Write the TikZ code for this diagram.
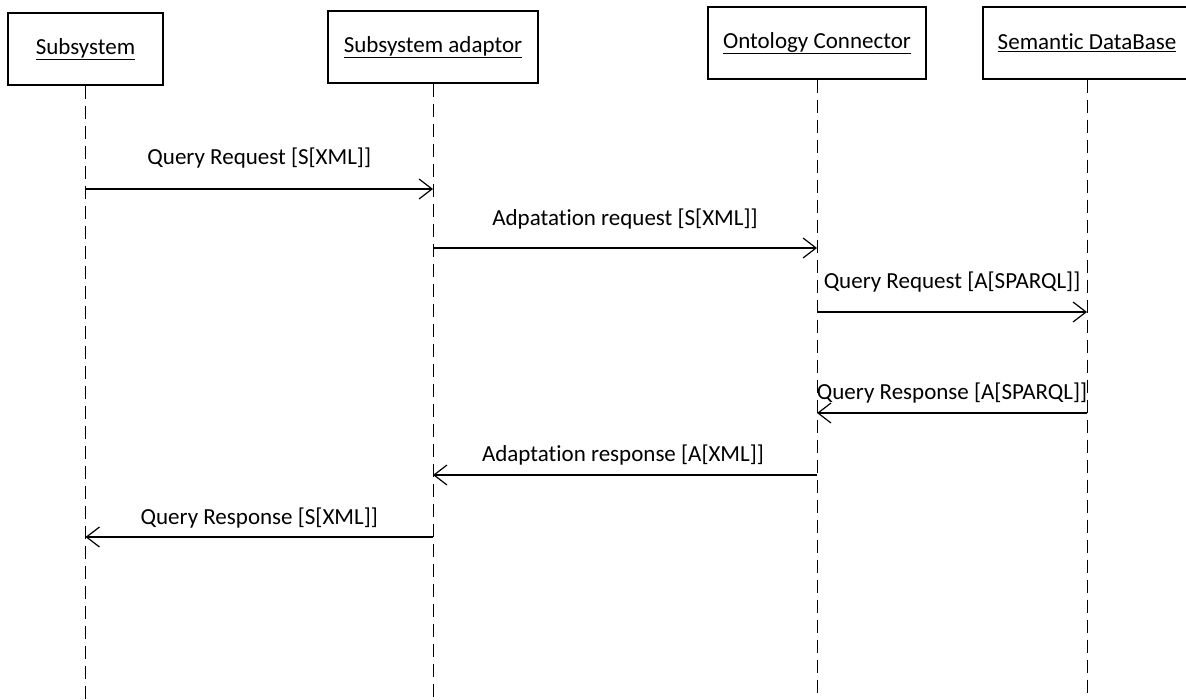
\documentclass[tikz,border=0pt]{standalone}
\usepackage{fontspec}
\setmainfont{Carlito}[RawFeature={-liga;-clig;-calt;-dlig}]
\usetikzlibrary{arrows.meta}
\begin{document}
\begin{tikzpicture}[x=1pt,y=-1pt,
  font=\fontsize{23}{27}\selectfont,
  actor/.style={draw, line width=1.2pt, inner sep=0pt, minimum height=72pt, fill=white},
  lifeline/.style={line width=1pt, dash pattern=on 13pt off 7pt},
  msg/.style={line width=1.2pt, -{Straight Barb[length=13pt,width=20pt,line width=1.2pt]}},
  lbl/.style={inner sep=0pt, anchor=center}]
\useasboundingbox (0,0) rectangle (1186,699);
% actors
\node[actor, minimum width=155pt] (s1) at (85.5,49) {\underline{Subsystem}};
\node[actor, minimum width=210pt] (s2) at (433,47) {\underline{Subsystem adaptor}};
\node[actor, minimum width=218pt] (s3) at (817,43) {\underline{Ontology Connector}};
\node[actor, minimum width=208pt] (s4) at (1087,43) {\underline{Semantic DataBase}};
% lifeline ends
\coordinate (e1) at (85.5,699);
\coordinate (e2) at (433,699);
\coordinate (e3) at (817,699);
\coordinate (e4) at (1087,699);
\draw[lifeline] (s1.south) -- (e1);
\draw[lifeline] (s2.south) -- (e2);
\draw[lifeline] (s3.south) -- (e3);
\draw[lifeline] (s4.south) -- (e4);
% message end points
\coordinate (m1a) at (85.5,189);  \coordinate (m1b) at (433,189);
\coordinate (m2a) at (433,248);   \coordinate (m2b) at (817,248);
\coordinate (m3a) at (817,312);   \coordinate (m3b) at (1087,312);
\coordinate (m4a) at (1087,413);  \coordinate (m4b) at (817,413);
\coordinate (m5a) at (817,475);   \coordinate (m5b) at (433,475);
\coordinate (m6a) at (433,537);   \coordinate (m6b) at (85.5,537);
\draw[msg] (m1a) -- (m1b);
\draw[msg] (m2a) -- (m2b);
\draw[msg] (m3a) -- (m3b);
\draw[msg] (m4a) -- (m4b);
\draw[msg] (m5a) -- (m5b);
\draw[msg] (m6a) -- (m6b);
% labels
\node[lbl] (l1) at (259.25,158) {Query Request [S[XML]]};
\node[lbl] (l2) at (625,219) {Adpatation request [S[XML]]};
\node[lbl] (l3) at (952,282) {Query Request [A[SPARQL]]};
\node[lbl] (l4) at (952,393) {Query Response [A[SPARQL]]};
\node[lbl] (l5) at (623,455) {Adaptation response [A[XML]]};
\node[lbl] (l6) at (259.25,518) {Query Response [S[XML]]};
\end{tikzpicture}
\end{document}
